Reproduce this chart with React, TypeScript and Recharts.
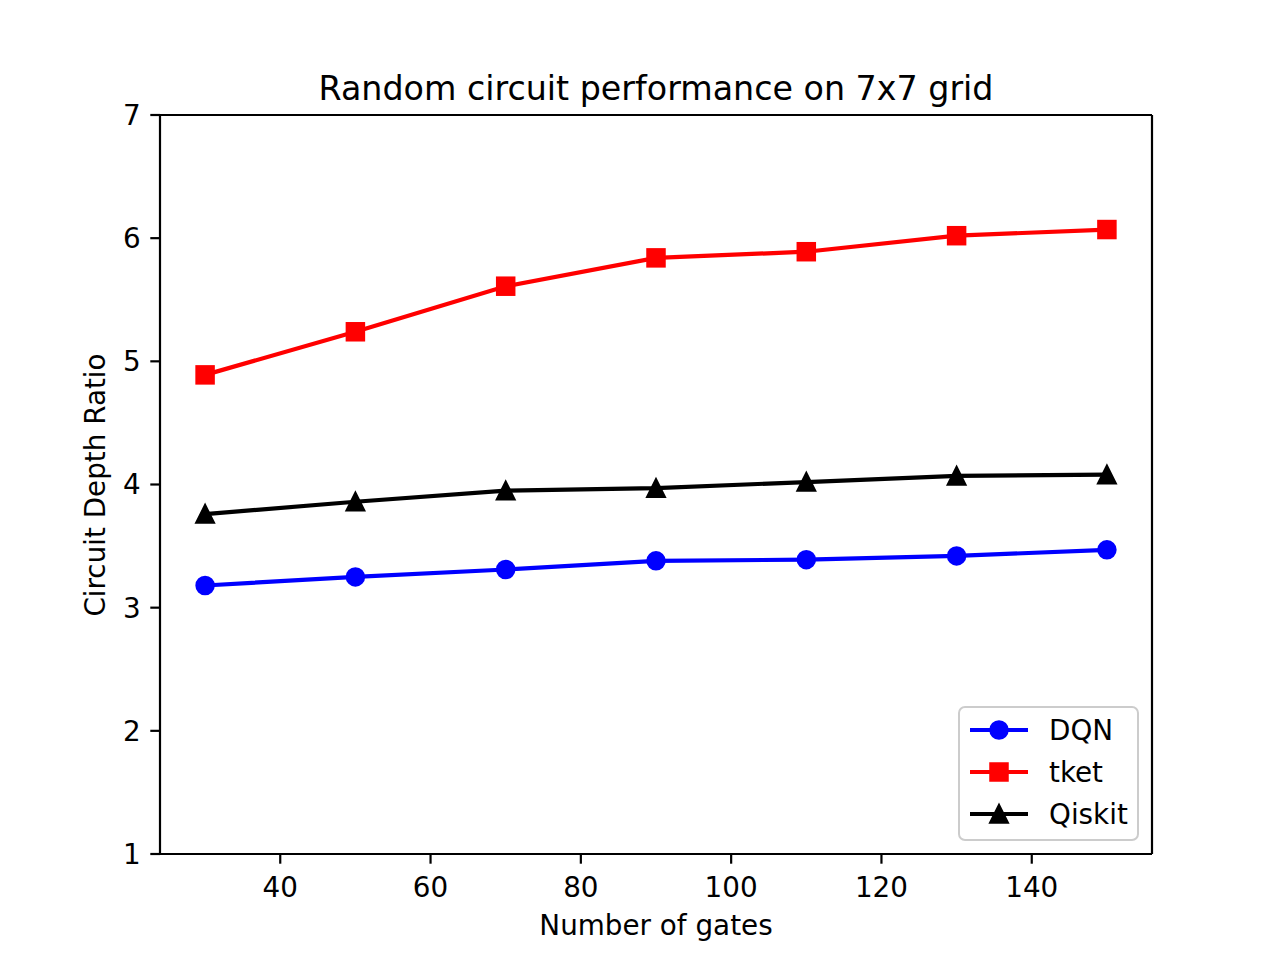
import { LineChart, Line, XAxis, YAxis, ReferenceLine, Customized } from 'recharts';

const gates = [30, 50, 70, 90, 110, 130, 150];
const dqn = [3.18, 3.25, 3.31, 3.38, 3.39, 3.42, 3.47];
const tket = [4.89, 5.24, 5.61, 5.84, 5.89, 6.02, 6.07];
const qiskit = [3.76, 3.86, 3.95, 3.97, 4.02, 4.07, 4.08];
const xTicks = [40, 60, 80, 100, 120, 140];
const yTicks = [1, 2, 3, 4, 5, 6, 7];

const data = gates.map((g, i) => ({ gates: g, dqn: dqn[i], tket: tket[i], qiskit: qiskit[i] }));

const FONT = '"DejaVu Sans", sans-serif';
const FS = 27.8;
const M = 8.35; // half marker size

function CircleMark({ cx, cy, color }: any) {
  return <circle cx={cx} cy={cy} r={M} fill={color} stroke={color} strokeWidth={2.8} />;
}
function SquareMark({ cx, cy, color }: any) {
  return <rect x={cx - M} y={cy - M} width={M * 2} height={M * 2} fill={color} stroke={color} strokeWidth={2.8} />;
}
function TriangleMark({ cx, cy, color }: any) {
  return (
    <path
      d={`M${cx},${cy - M} L${cx - M},${cy + M} L${cx + M},${cy + M} Z`}
      fill={color}
      stroke={color}
      strokeWidth={2.8}
      strokeLinejoin="miter"
    />
  );
}

const legendItems = [
  { label: 'DQN', color: '#0000ff', Mark: CircleMark },
  { label: 'tket', color: '#ff0000', Mark: SquareMark },
  { label: 'Qiskit', color: '#000000', Mark: TriangleMark },
];

function Texts() {
  return (
    <g fontFamily={FONT} fill="#000">
      <text x={656} y={100} textAnchor="middle" fontSize={33.3}>
        Random circuit performance on 7x7 grid
      </text>
      <text x={656} y={935} textAnchor="middle" fontSize={FS}>
        Number of gates
      </text>
      <text x={105} y={485} textAnchor="middle" fontSize={FS} transform="rotate(-90 105 485)">
        Circuit Depth Ratio
      </text>
      <rect x={959} y={707} width={179} height={133} rx={6} fill="#fff" fillOpacity={0.8} stroke="#cccccc" strokeWidth={2} />
      {legendItems.map((it, i) => {
        const y = 730 + i * 42;
        const Mark = it.Mark;
        return (
          <g key={it.label}>
            <line x1={970} x2={1028} y1={y} y2={y} stroke={it.color} strokeWidth={4.2} />
            <Mark cx={999} cy={y} color={it.color} />
            <text x={1049} y={y + 10} fontSize={FS}>
              {it.label}
            </text>
          </g>
        );
      })}
    </g>
  );
}

export default function App() {
  return (
    <div style={{ position: 'absolute', left: 0, top: 0, width: 1280, height: 960, background: '#fff' }}>
      <LineChart width={1280} height={960} data={data} margin={{ top: 115, right: 128, bottom: 0, left: 0 }}>
        <XAxis
          dataKey="gates"
          type="number"
          domain={[24, 156]}
          ticks={xTicks}
          height={106}
          axisLine={{ stroke: '#000', strokeWidth: 2.2 }}
          tickLine={{ stroke: '#000', strokeWidth: 2.2 }}
          tickSize={9.7}
          tickMargin={14}
          tick={{ fill: '#000', fontSize: FS, fontFamily: FONT }}
        />
        <YAxis
          type="number"
          domain={[1, 7]}
          ticks={yTicks}
          width={160}
          axisLine={{ stroke: '#000', strokeWidth: 2.2 }}
          tickLine={{ stroke: '#000', strokeWidth: 2.2 }}
          tickSize={9.7}
          tickMargin={9.7}
          tick={{ fill: '#000', fontSize: FS, fontFamily: FONT }}
        />
        <ReferenceLine y={7} stroke="#000" strokeWidth={2.2} ifOverflow="visible" />
        <ReferenceLine x={156} stroke="#000" strokeWidth={2.2} ifOverflow="visible" />
        <Line
          dataKey="dqn"
          stroke="#0000ff"
          strokeWidth={4.2}
          isAnimationActive={false}
          dot={(p: any) => <CircleMark key={`d${p.index}`} cx={p.cx} cy={p.cy} color="#0000ff" />}
          activeDot={false}
        />
        <Line
          dataKey="tket"
          stroke="#ff0000"
          strokeWidth={4.2}
          isAnimationActive={false}
          dot={(p: any) => <SquareMark key={`t${p.index}`} cx={p.cx} cy={p.cy} color="#ff0000" />}
          activeDot={false}
        />
        <Line
          dataKey="qiskit"
          stroke="#000000"
          strokeWidth={4.2}
          isAnimationActive={false}
          dot={(p: any) => <TriangleMark key={`q${p.index}`} cx={p.cx} cy={p.cy} color="#000000" />}
          activeDot={false}
        />
        <Customized component={Texts} />
      </LineChart>
    </div>
  );
}
